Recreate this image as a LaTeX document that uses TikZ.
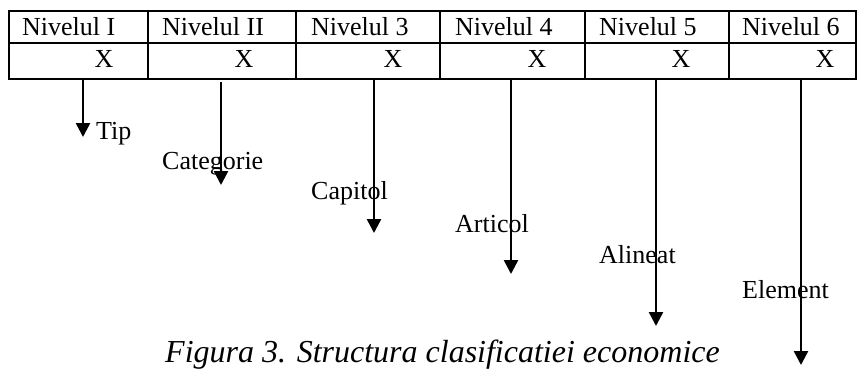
\documentclass[tikz,border=0pt]{standalone}
\usepackage{fontspec}
\setmainfont{Liberation Serif}
\usetikzlibrary{arrows.meta}
\begin{document}
\begin{tikzpicture}[x=1pt,y=-1pt,
  txt/.style={anchor=base west,inner sep=0pt,font=\fontsize{26}{30}\selectfont},
  xmark/.style={anchor=base,inner sep=0pt,font=\fontsize{26}{30}\selectfont},
  captxt/.style={anchor=base west,inner sep=0pt,font=\fontsize{32}{36}\selectfont\itshape},
  grid/.style={line width=2pt},
  down/.style={line width=2.5pt,-{Triangle[width=14pt,length=14pt]}}]
\useasboundingbox (0,0) rectangle (857,368);
% table
\draw[grid] (8.5,11) rectangle (856,79);
\draw[grid] (8.5,43) -- (856,43);
\foreach \c in {148,296,440,585,729} \draw[grid] (\c,11) -- (\c,79);
% header
\node[txt] (h1) at (22,35) {Nivelul I};
\node[txt] (h2) at (162,35) {Nivelul II};
\node[txt] (h3) at (311,35) {Nivelul 3};
\node[txt] (h4) at (455,35) {Nivelul 4};
\node[txt] (h5) at (599,35) {Nivelul 5};
\node[txt] (h6) at (742,35) {Nivelul 6};
% X row
\node[xmark] (x1) at (104,67) {X};
\node[xmark] (x2) at (244,67) {X};
\node[xmark] (x3) at (393,67) {X};
\node[xmark] (x4) at (537,67) {X};
\node[xmark] (x5) at (681,67) {X};
\node[xmark] (x6) at (825,67) {X};
% arrows
\coordinate (s1) at (83,79);  \coordinate (e1) at (83,137);
\coordinate (s2) at (221,82); \coordinate (e2) at (221,185);
\coordinate (s3) at (374,79); \coordinate (e3) at (374,233);
\coordinate (s4) at (511,79); \coordinate (e4) at (511,274);
\coordinate (s5) at (656,79); \coordinate (e5) at (656,326);
\coordinate (s6) at (801,79); \coordinate (e6) at (801,365);
\foreach \i in {1,...,6} \draw[down] (s\i) -- (e\i);
% labels
\node[txt] (l1) at (96,139) {Tip};
\node[txt] (l2) at (162,169) {Categorie};
\node[txt] (l3) at (311,199) {Capitol};
\node[txt] (l4) at (455,232) {Articol};
\node[txt] (l5) at (599,263) {Alineat};
\node[txt] (l6) at (742,298) {Element};
% caption
\node[captxt] (caption) at (165,362) {Figura 3. Structura clasificatiei economice};
\end{tikzpicture}
\end{document}
